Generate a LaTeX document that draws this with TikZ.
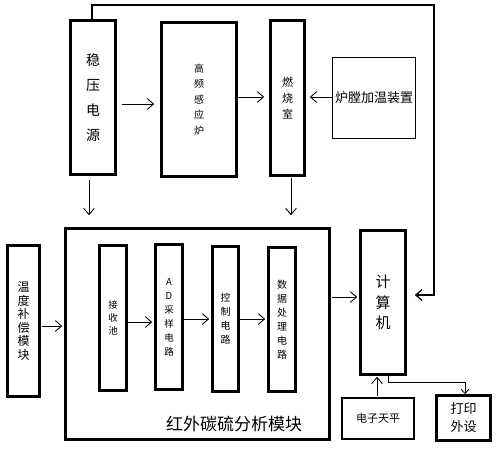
\documentclass[tikz,border=0pt]{standalone}
\usepackage{fontspec}
\usepackage{tikz}
\usetikzlibrary{arrows.meta, positioning, calc}
\newfontfamily\cjk{Noto Sans CJK SC}

\begin{document}
\begin{tikzpicture}[x=1pt, y=-1pt,
    box/.style={draw, line width=2.6pt, align=center, inner sep=0pt},
    thinbox/.style={draw, line width=1.1pt, align=center, inner sep=0pt},
    lbl/.style={font=\cjk\fontsize{17}{20}\selectfont, inner sep=0pt},
    >={Straight Barb[length=2.2mm, width=3.8mm]}, line width=0.9pt
  ]
  \useasboundingbox (0,0) rectangle (500,450);

  % top row
  \node[box, minimum width=45, minimum height=154, font=\cjk\fontsize{14}{25}\selectfont] (pwr) at (93,97.5) {稳\\压\\电\\源};
  \node[box, minimum width=75, minimum height=154, font=\cjk\fontsize{10}{15.5}\selectfont] (furnace) at (199,99.5) {高\\频\\感\\应\\炉};
  \node[box, minimum width=34, minimum height=155, font=\cjk\fontsize{11}{16}\selectfont] (burn) at (287.5,98) {燃\\烧\\室};
  \node[thinbox, minimum width=83, minimum height=81, font=\cjk\fontsize{13}{15}\selectfont] (heat) at (374,98) {炉膛加温装置};

  \draw[->, shorten <=5pt, shorten >=6pt] ([yshift=-6.5pt]pwr.east) -- ([yshift=-6.5pt]pwr.east -| furnace.west);
  \draw[->, shorten >=5pt] ([yshift=2.5pt]furnace.east) -- ([yshift=2.5pt]furnace.east -| burn.west);
  \draw[->, shorten >=4pt] ([yshift=1pt]heat.west) -- ([yshift=1pt]heat.west -| burn.east);

  % analysis module
  \node[box, minimum width=264, minimum height=211] (module) at (197.5,334) {};
  \node[lbl] (modlbl) at (234,424) {红外碳硫分析模块};
  \node[box, minimum width=27, minimum height=145, font=\cjk\fontsize{9.5}{13}\selectfont] (recv) at (113,318) {接\\收\\池};
  \node[box, minimum width=27, minimum height=145, font=\cjk\fontsize{9.5}{14}\selectfont] (adc) at (169,317) {A\\D\\采\\样\\电\\路};
  \node[box, minimum width=26, minimum height=145, font=\cjk\fontsize{10}{14}\selectfont] (ctrl) at (225.5,319) {控\\制\\电\\路};
  \node[box, minimum width=27, minimum height=144, font=\cjk\fontsize{10}{14}\selectfont] (dsp) at (282,319.5) {数\\据\\处\\理\\电\\路};

  \draw[->, shorten <=4pt, shorten >=12pt] ([xshift=-4pt]pwr.south) -- ([xshift=-4pt]pwr.south |- module.north);
  \draw[->, shorten <=1pt, shorten >=12pt] ([xshift=3.5pt]burn.south) -- ([xshift=3.5pt]burn.south |- module.north);
  \draw[->, shorten >=2pt] ([yshift=-4pt]recv.east) -- ([yshift=-4pt]recv.east -| adc.west);
  \draw[->, shorten >=2pt] ([yshift=-2pt]adc.east) -- ([yshift=-2pt]adc.east -| ctrl.west);
  \draw[->, shorten >=2pt] (ctrl.east) -- (ctrl.east -| dsp.west);

  % left and right
  \node[box, minimum width=32, minimum height=151, font=\cjk\fontsize{12}{13.5}\selectfont] (temp) at (23.5,321) {温\\度\\补\\偿\\模\\块};
  \node[box, minimum width=45, minimum height=144, font=\cjk\fontsize{15}{20.5}\selectfont] (pc) at (383,302.5) {计\\算\\机};
  \node[box, minimum width=72, minimum height=41, line width=2.3pt, font=\cjk\fontsize{11}{13}\selectfont] (scale) at (378,418.5) {电子天平};
  \node[box, minimum width=54, minimum height=45, font=\cjk\fontsize{13}{18}\selectfont] (printer) at (463.5,418) {打印\\外设};

  \draw[->, shorten <=1pt, shorten >=2pt] ([yshift=-5pt]temp.east) -- ([yshift=-5pt]temp.east -| module.west);
  \draw[->, shorten <=1pt, shorten >=2pt] ([yshift=5.5pt]pc.west -| module.east) -- ([yshift=5.5pt]pc.west);
  \coordinate (fbtop) at (434,5);
  \draw[->, line width=1.3pt, shorten >=8pt] ([xshift=-1pt]pwr.north) |- (fbtop) |- ([yshift=7.5pt]pc.east);
  \draw[->, shorten <=1pt, shorten >=1pt] ([xshift=-1pt]scale.north) -- ([xshift=-1pt]scale.north |- pc.south);
  \draw[->, line width=0.8pt, >={Straight Barb[length=1.6mm, width=2.8mm]}] ([xshift=5pt]pc.south) -- ++(0,7) -| ([xshift=1.5pt]printer.north);
\end{tikzpicture}
\end{document}
